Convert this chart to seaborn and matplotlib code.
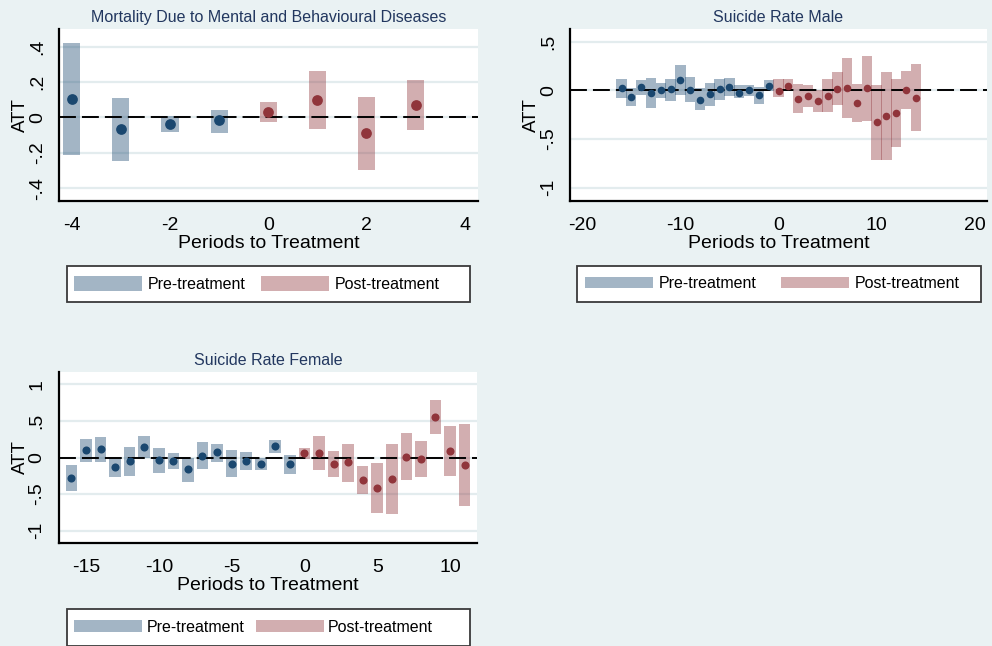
import matplotlib
matplotlib.use("Agg")
import matplotlib.pyplot as plt
from matplotlib.patches import Patch, Rectangle
import numpy as np
import pandas as pd
import seaborn as sns

# ---------------- data ----------------
mort_periods = [-4, -3, -2, -1, 0, 1, 2, 3]
mort_att = [0.107, -0.066, -0.036, -0.017, 0.030, 0.098, -0.089, 0.070]
mort_lo = [-0.210, -0.245, -0.083, -0.085, -0.027, -0.066, -0.294, -0.072]
mort_hi = [0.420, 0.110, 0.006, 0.045, 0.085, 0.264, 0.115, 0.209]

male_periods = list(range(-16, 15))
male_att = [0.020, -0.065, 0.030, -0.024, 0.003, 0.010, 0.108, 0.005, -0.100, -0.034,
            0.014, 0.034, -0.027, 0.003, -0.051, 0.045,
            -0.010, 0.045, -0.086, -0.062, -0.110, -0.055, 0.017, 0.027, -0.130, 0.020,
            -0.330, -0.264, -0.236, 0.007, -0.075]
male_lo = [-0.080, -0.162, -0.052, -0.178, -0.077, -0.106, -0.043, -0.125, -0.200, -0.158,
           -0.100, -0.062, -0.079, -0.058, -0.140, -0.010,
           -0.068, -0.003, -0.233, -0.175, -0.223, -0.223, -0.150, -0.284, -0.330, -0.315,
           -0.712, -0.712, -0.582, -0.188, -0.418]
male_hi = [0.116, 0.025, 0.110, 0.127, 0.075, 0.121, 0.257, 0.137, 0.020, 0.072,
           0.113, 0.127, 0.051, 0.051, 0.031, 0.108,
           0.113, 0.113, 0.065, 0.051, 0.003, 0.116, 0.185, 0.336, 0.068, 0.356,
           0.051, 0.185, 0.113, 0.202, 0.267]

fem_periods = list(range(-16, 12))
fem_att = [-0.278, 0.096, 0.114, -0.123, -0.046, 0.146, -0.036, -0.046, -0.160, 0.023,
           0.073, -0.091, -0.046, -0.091, 0.155, -0.091,
           0.059, 0.064, -0.087, -0.068, -0.310, -0.414, -0.296, 0.009, -0.014, 0.551,
           0.087, -0.109]
fem_lo = [-0.464, -0.055, -0.055, -0.260, -0.246, -0.010, -0.205, -0.155, -0.337, -0.160,
          -0.055, -0.273, -0.168, -0.173, 0.059, -0.219,
          -0.014, -0.168, -0.269, -0.337, -0.505, -0.760, -0.774, -0.314, -0.269, 0.319,
          -0.250, -0.669]
fem_hi = [-0.100, 0.250, 0.278, 0.000, 0.146, 0.296, 0.123, 0.059, -0.010, 0.214,
          0.187, 0.100, 0.077, 0.000, 0.241, 0.036,
          0.123, 0.287, 0.091, 0.187, -0.114, -0.073, 0.182, 0.332, 0.232, 0.779,
          0.424, 0.455]

titles = ["Mortality Due to Mental and Behavioural Diseases",
          "Suicide Rate Male", "Suicide Rate Female"]
xlabel_text = "Periods to Treatment"
ylabel_text = "ATT"
legend_labels = ["Pre-treatment", "Post-treatment"]

mort_xticks = [-4, -2, 0, 2, 4]
mort_yticks = [-0.4, -0.2, 0, 0.2, 0.4]
mort_yticklabels = ["-.4", "-.2", "0", ".2", ".4"]
male_xticks = [-20, -10, 0, 10, 20]
male_yticks = [-1, -0.5, 0, 0.5]
male_yticklabels = ["-1", "-.5", "0", ".5"]
fem_xticks = [-15, -10, -5, 0, 5, 10]
fem_yticks = [-1, -0.5, 0, 0.5, 1]
fem_yticklabels = ["-1", "-.5", "0", ".5", "1"]

# ---------------- style ----------------
sns.set_style("white")
plt.rcParams["font.family"] = ["Liberation Sans", "DejaVu Sans"]

BG = "#EAF2F3"
NAVY = "#1A476F"
MAROON = "#90353B"
TITLE_C = "#22375F"
GRID_C = "#E3ECEE"

W, H = 992, 646
fig = plt.figure(figsize=(W / 100, H / 100), dpi=100, facecolor=BG)


def fx(px):
    return px / W


def fy(py):
    return 1 - py / H


def panel(rect_px, periods, att, lo, hi, width, msize, xlim, ylim, xticks, yticks,
          yticklabels, title):
    l, t, r, b = rect_px
    ax = fig.add_axes([fx(l), fy(b), fx(r - l), (b - t) / H])
    ax.set_facecolor("white")
    df = pd.DataFrame({"period": periods, "att": att, "lo": lo, "hi": hi})
    df["phase"] = np.where(df["period"] < 0, "pre", "post")
    for ph, col in (("pre", NAVY), ("post", MAROON)):
        d = df[df["phase"] == ph]
        ax.bar(d["period"], d["hi"] - d["lo"], bottom=d["lo"], width=width,
               color=col, alpha=0.4, linewidth=0, zorder=2)
    ax.axhline(0, color="black", lw=1.4, dashes=(8.7, 3.1), zorder=3)
    for ph, col in (("pre", NAVY), ("post", MAROON)):
        d = df[df["phase"] == ph]
        sns.scatterplot(data=d, x="period", y="att", color=col, s=msize,
                        linewidth=0, ax=ax, zorder=4, legend=False)
    ax.set_xlim(*xlim)
    ax.set_ylim(*ylim)
    ax.set_xticks(xticks)
    ax.set_xticklabels([str(v) for v in xticks])
    ax.set_yticks(yticks)
    ax.set_yticklabels(yticklabels, rotation=90, va="center")
    ax.grid(axis="y", color=GRID_C, lw=1.6, zorder=0)
    ax.grid(axis="x", visible=False)
    ax.set_axisbelow(True)
    for s in ("top", "right"):
        ax.spines[s].set_visible(False)
    for s in ("left", "bottom"):
        ax.spines[s].set_color("black")
        ax.spines[s].set_linewidth(1.6)
    ax.tick_params(axis="both", direction="out", length=5.5, width=1.2,
                   color="black", labelsize=14, labelcolor="black")
    ax.tick_params(axis="y", pad=4)
    ax.tick_params(axis="x", pad=6)
    ax.set_xlabel(xlabel_text, fontsize=14, labelpad=1, color="black")
    ax.set_ylabel(ylabel_text, fontsize=13.5, labelpad=0, color="black")
    ax.set_title(title, fontsize=11.5, color=TITLE_C, pad=5)
    return ax


def legend_box(ax, frame_px, anchor_px, hh, htp, csp):
    x0, y0, x1, y1 = frame_px
    fig.add_artist(Rectangle((fx(x0), fy(y1)), fx(x1 - x0), (y1 - y0) / H,
                             transform=fig.transFigure, facecolor="white",
                             edgecolor="#3A3A3A", lw=1.3, zorder=-1))
    handles = [Patch(facecolor=NAVY, alpha=0.4, linewidth=0, label=legend_labels[0]),
               Patch(facecolor=MAROON, alpha=0.4, linewidth=0, label=legend_labels[1])]
    leg = ax.legend(handles=handles, ncol=2, loc="center left",
                    bbox_to_anchor=(fx(anchor_px[0]), fy(anchor_px[1])),
                    bbox_transform=fig.transFigure, frameon=False, fontsize=11.5,
                    handlelength=4.26, handleheight=hh, handletextpad=htp,
                    columnspacing=csp, borderpad=0, borderaxespad=0)
    for tx in leg.get_texts():
        tx.set_color("black")


ax1 = panel((59, 29, 478, 201), mort_periods, mort_att, mort_lo, mort_hi, 0.35, 60,
            (-4.26, 4.27), (-0.472, 0.5), mort_xticks, mort_yticks, mort_yticklabels,
            titles[0])
legend_box(ax1, (66.7, 265.7, 470, 302.3), (74, 284), 1.11, 0.38, 0.92)

ax2 = panel((570, 29, 987, 201), male_periods, male_att, male_lo, male_hi, 1.05, 30,
            (-21.25, 21.25), (-1.137, 0.63), male_xticks, male_yticks, male_yticklabels,
            titles[1])
legend_box(ax2, (577.3, 265.7, 980.7, 302.3), (585, 283.5), 0.73, 0.35, 1.53)

ax3 = panel((58.7, 372.3, 477.3, 542.7), fem_periods, fem_att, fem_lo, fem_hi, 0.8, 34,
            (-16.87, 11.87), (-1.164, 1.164), fem_xticks, fem_yticks, fem_yticklabels,
            titles[2])
legend_box(ax3, (66.7, 608.7, 470, 645.5), (74, 627.2), 0.77, 0.29, 0.69)

fig.savefig("out.png", dpi=100, facecolor=BG)
